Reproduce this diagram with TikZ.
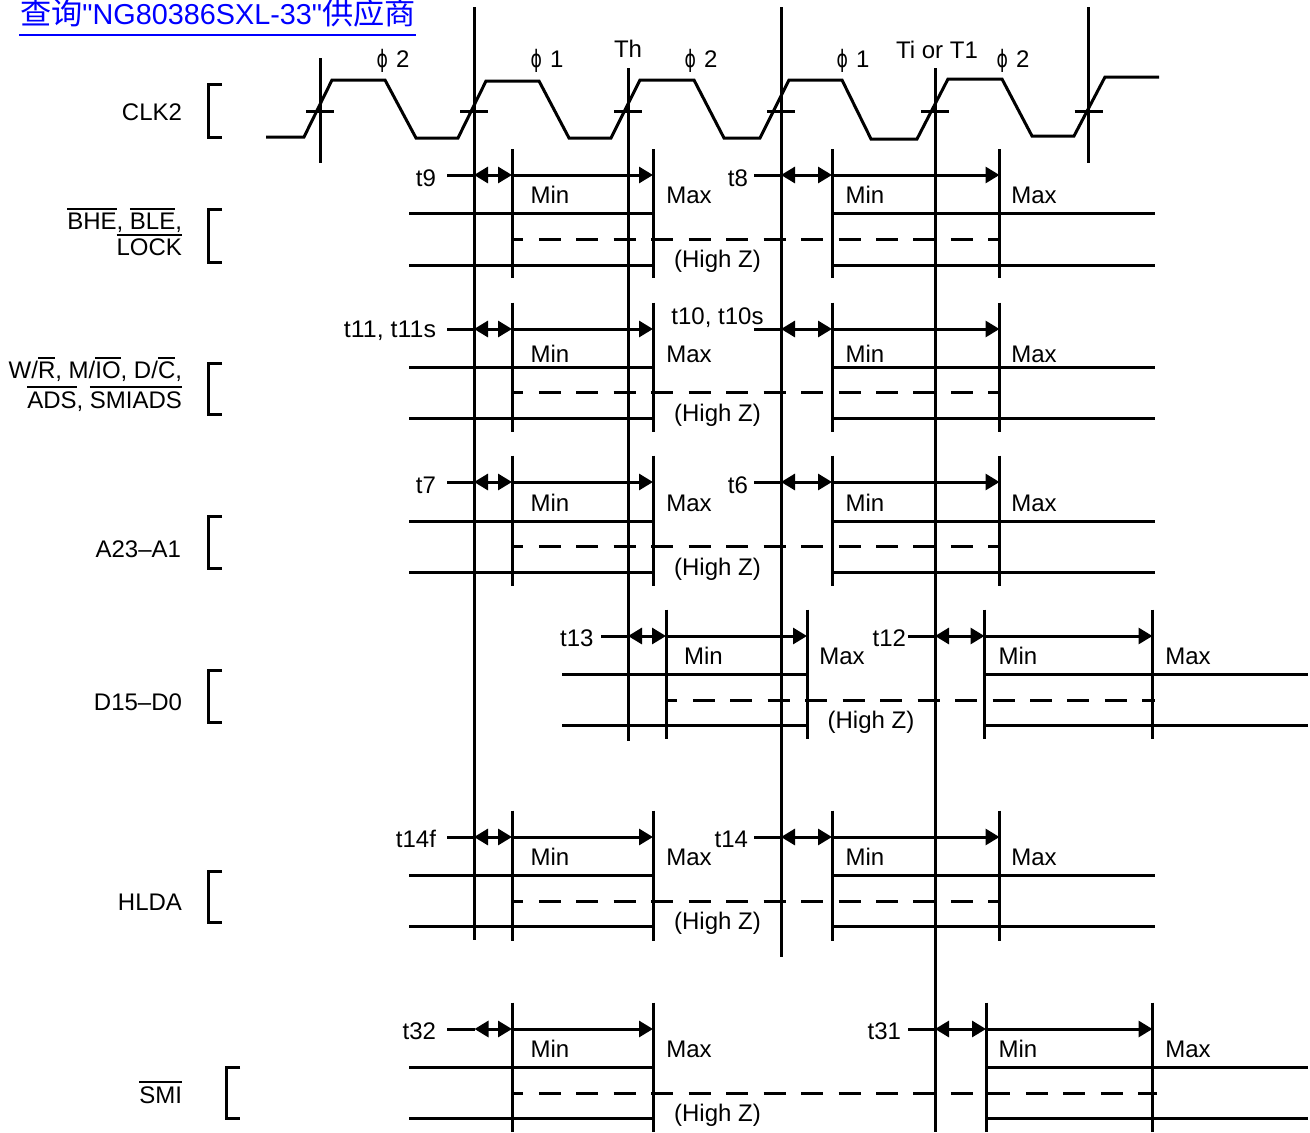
\documentclass[tikz,border=0pt]{standalone}
\usepackage{fontspec}
\usepackage{graphicx}
\setmainfont{Liberation Sans}
\newfontfamily\cjkf{Noto Sans CJK SC}
\newfontfamily\latf{Liberation Sans}
\newfontfamily\phif{DejaVu Sans}
\usetikzlibrary{arrows.meta}
\newcommand\ovl[1]{\leavevmode\setbox0=\hbox{#1}\rlap{\rule[15pt]{\wd0}{1.3pt}}\box0 }
\newcommand\phisym[1]{\scalebox{0.72}[1]{\phif ϕ}\,\,#1}
\tikzset{
  sig/.style={line width=2.25pt,line cap=butt,line join=miter},
  dashsig/.style={line width=2.25pt,dash pattern=on 16.5pt off 11.6pt,dash phase=8pt},
  both/.style={line width=2.25pt,{Triangle[length=10.5pt,width=12pt]}-{Triangle[length=10.5pt,width=12pt]}},
  one/.style={line width=2.25pt,-{Triangle[length=10.5pt,width=12pt]}},
  lab/.style={inner sep=0pt,outer sep=0pt,anchor=base,font=\fontsize{18}{20}\selectfont},
  labr/.style={lab,anchor=base east,align=right},
  labl/.style={lab,anchor=base west},
}
% time span: prefix, label-line start, b, c, d, arrow y
\newcommand\tspan[6]{%
  \coordinate (#1s) at (#2,#6);
  \coordinate (#1b) at (#3,#6);
  \coordinate (#1c) at (#4,#6);
  \coordinate (#1d) at (#5,#6);
  \draw[sig] (#1s) -- (#1b);
  \draw[both] (#1b) -- (#1c);
  \draw[one] (#1c) -- (#1d);
}
\newcommand\vv[3]{\draw[sig] (#1,#2) -- (#1,#3);}
\newcommand\hh[3]{\draw[sig] (#1,#3) -- (#2,#3);}
\begin{document}
\begin{tikzpicture}[x=0.75pt,y=-0.75pt]
\useasboundingbox (0,0) rectangle (1310,1132);
% title
\node[lab,anchor=base west,text=blue] (title) at (20,24) {\cjkf\fontsize{23.4}{24}\selectfont 查询{\latf\fontsize{21.6}{24}\selectfont "NG80386SXL-33"}供应商};
\draw[blue,line width=1.5pt] (19,35) -- (416,35);
% clock
\draw[sig] (266,137) -- (304,137) -- (332,80) -- (385,80) -- (416,138) -- (458,138) -- (486,81) -- (539,81) -- (569,138) -- (611,138) -- (640,80) -- (694,80) -- (724,138) -- (760,138) -- (789,80) -- (842,80) -- (871,139) -- (917,139) -- (948,79) -- (1002,79) -- (1032,136) -- (1074,136) -- (1105,77) -- (1159,77);
\foreach \x in {320,474,628,781,935,1088.5}{\draw[sig] (\x-14,111) -- (\x+14,111);}
% long verticals
\vv{320}{58}{163}
\vv{474}{7}{940}
\vv{628}{68}{741}
\vv{781}{7}{957}
\vv{935}{68}{1132}
\vv{1088.5}{7}{163}
% brackets
\foreach \x/\a/\b in {208/84/137,208/209.5/262,208/363.5/414,208/516.5/568,208/670.5/722,208/871.5/922,226/1067.5/1118}{
  \draw[sig] (\x+14,\a) -- (\x,\a) -- (\x,\b) -- (\x+14,\b);}
% phase labels
\foreach \n/\x/\y/\t in {pa/393/67.5/2,pb/547/67.5/1,pc/701/67.5/2,pd/853/67.5/1,pe/1013/67.5/2}{
  \node[lab] (\n) at (\x,\y) {\phisym{\t}};}
\node[lab] (th) at (628,57) {Th};
\node[lab] (titl) at (937,58) {Ti or T1};
% left signal names
\node[labr] (clk) at (182,120.5) {CLK2};
\node[labr] (bhe) at (182,229.5) {\ovl{BHE}, \ovl{BLE},};
\node[labr] (lock) at (182,255.5) {\ovl{LOCK}};
\node[labr] (wr) at (182,378.5) {W/\ovl{R}, M/\ovl{IO}, D/\ovl{C},};
\node[labr] (ads) at (182,408) {\ovl{ADS}, \ovl{SMIADS}};
\node[labr] (addr) at (181,557) {A23–A1};
\node[labr] (data) at (182,710) {D15–D0};
\node[labr] (hlda) at (182,910.5) {HLDA};
\node[labr] (smi) at (182,1103) {\ovl{SMI}};
% ---- BHE row
\tspan{a}{447}{474}{512}{653}{175}
\tspan{b}{754}{781}{832}{999.5}{175}
\foreach \x in {512,653,832,999.5}{\vv{\x}{149}{278}}
\hh{409}{653}{213}\hh{409}{653}{265}\hh{832}{1155}{213}\hh{832}{1155}{265}
\draw[dashsig] (512,239) -- (999.5,239);
\node[labr] (t9) at (436,186) {t9};
\node[labr] (t8) at (748,186) {t8};
\node[lab] (a1) at (550,203.5) {Min};
\node[lab] (a2) at (689,203.5) {Max};
\node[lab] (a3) at (865,203.5) {Min};
\node[lab] (a4) at (1034,203.5) {Max};
\node[lab] (a5) at (717.5,267) {(High Z)};
% ---- WR row
\tspan{c}{447}{474}{512}{653}{329}
\tspan{d}{754}{781}{832}{999.5}{329}
\foreach \x in {512,653,832,999.5}{\vv{\x}{302.5}{432}}
\hh{409}{653}{367}\hh{409}{653}{418}\hh{832}{1155}{367}\hh{832}{1155}{418}
\draw[dashsig] (512,392) -- (999.5,392);
\node[labr] (t11) at (436,337) {\scalebox{1.04}[1]{t11, t11s}};
\node[lab] (t10) at (717.5,324) {t10, t10s};
\node[lab] (c1) at (550,362) {Min};
\node[lab] (c2) at (689,362) {Max};
\node[lab] (c3) at (865,362) {Min};
\node[lab] (c4) at (1034,362) {Max};
\node[lab] (c5) at (717.5,421) {(High Z)};
% ---- A row
\tspan{e}{447}{474}{512}{653}{482}
\tspan{f}{754}{781}{832}{999.5}{482}
\foreach \x in {512,653,832,999.5}{\vv{\x}{455.5}{586}}
\hh{409}{653}{521}\hh{409}{653}{572}\hh{832}{1155}{521}\hh{832}{1155}{572}
\draw[dashsig] (512,546) -- (999.5,546);
\node[labr] (t7) at (436,493) {t7};
\node[labr] (t6) at (748,493) {t6};
\node[lab] (e1) at (550,511) {Min};
\node[lab] (e2) at (689,511) {Max};
\node[lab] (e3) at (865,511) {Min};
\node[lab] (e4) at (1034,511) {Max};
\node[lab] (e5) at (717.5,575) {(High Z)};
% ---- D row
\tspan{g}{601}{628}{666}{807}{636}
\tspan{h}{908}{935}{984.5}{1152.5}{636}
\foreach \x in {666,807,984.5,1152.5}{\vv{\x}{609.5}{739}}
\hh{562}{807}{674}\hh{562}{807}{725}\hh{984.5}{1308}{674}\hh{984.5}{1308}{725}
\draw[dashsig] (666,700) -- (1155,700);
\node[labr] (t13) at (593.5,646) {t13};
\node[labr] (t12) at (906,646) {t12};
\node[lab] (g1) at (703.5,664) {Min};
\node[lab] (g2) at (842,664) {Max};
\node[lab] (g3) at (1018,664) {Min};
\node[lab] (g4) at (1188,664) {Max};
\node[lab] (g5) at (871,728) {(High Z)};
% ---- HLDA row
\tspan{i}{447}{474}{512}{653}{837}
\tspan{j}{754}{781}{832}{999.5}{837}
\foreach \x in {512,653,832,999.5}{\vv{\x}{810.5}{941}}
\hh{409}{653}{875}\hh{409}{653}{926}\hh{832}{1155}{875}\hh{832}{1155}{926}
\draw[dashsig] (512,901) -- (999.5,901);
\node[labr] (t14f) at (436,847) {t14f};
\node[labr] (t14) at (748,847) {t14};
\node[lab] (i1) at (550,865.5) {Min};
\node[lab] (i2) at (689,865.5) {Max};
\node[lab] (i3) at (865,865.5) {Min};
\node[lab] (i4) at (1034,865.5) {Max};
\node[lab] (i5) at (717.5,929) {(High Z)};
% ---- SMI row
\tspan{k}{447}{474.5}{512}{653}{1029}
\tspan{l}{908}{935}{986}{1152.5}{1029}
\foreach \x in {512,653,986,1152.5}{\vv{\x}{1002.5}{1132}}
\hh{409}{653}{1067}\hh{409}{653}{1118}\hh{986}{1308}{1067}\hh{986}{1308}{1118}
\draw[dashsig] (512,1093) -- (1157,1093);
\node[labr] (t32) at (436,1039) {t32};
\node[labr] (t31) at (901,1039) {t31};
\node[lab] (k1) at (550,1057) {Min};
\node[lab] (k2) at (689,1057) {Max};
\node[lab] (k3) at (1018,1057) {Min};
\node[lab] (k4) at (1188,1057) {Max};
\node[lab] (k5) at (717.5,1121) {(High Z)};
\end{tikzpicture}
\end{document}
